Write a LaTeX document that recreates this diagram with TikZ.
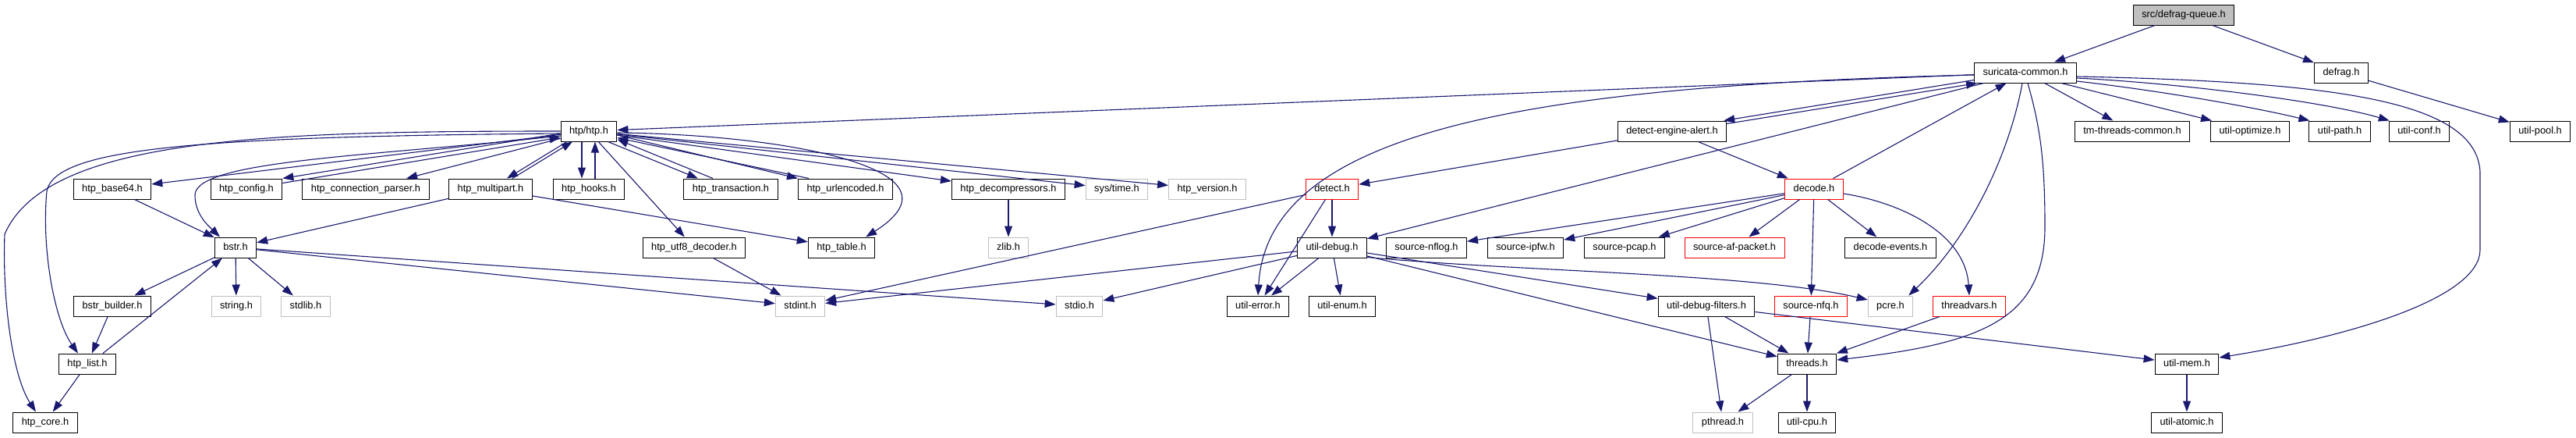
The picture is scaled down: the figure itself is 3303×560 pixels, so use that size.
\documentclass[tikz,border=0pt]{standalone}
\usepackage{fontspec}
\setmainfont{Liberation Sans}
\usepackage{xcolor}
\definecolor{edgeblue}{HTML}{191970}
\definecolor{extgray}{HTML}{BFBFBF}
\usetikzlibrary{arrows.meta}

\begin{document}
\begin{tikzpicture}[x=1pt, y=-1pt,
  file/.style={draw=black, fill=white, line width=1pt,
               font=\fontsize{12.8}{14}\selectfont, inner xsep=11pt, inner ysep=0pt,
               minimum height=26pt, text height=9.2pt, text depth=2.7pt},
  extfile/.style={file, draw=extgray},
  truncfile/.style={file, draw=red},
  rootfile/.style={file, fill=extgray},
  edge/.style={draw=edgeblue, line width=1.1pt, -{Triangle[length=14pt,width=10pt]}}]

\useasboundingbox (0,0) rectangle (3303,560);

% --- top: the file itself and its two direct includes ---
\node[rootfile] (root) at (2800,19) {src/defrag-queue.h};
\node[file] (scommon) at (2597,93) {suricata-common.h};
\node[file] (defrag) at (3002,93) {defrag.h};

% --- row 2 ---
\node[file] (htp) at (755,168) {htp/htp.h};
\node[file] (dealert) at (2144,168) {detect-engine-alert.h};
\node[file] (tmthreads) at (2734,168) {tm-threads-common.h};
\node[file] (uoptimize) at (2885,168) {util-optimize.h};
\node[file] (upath) at (3000,168) {util-path.h};
\node[file] (uconf) at (3102,168) {util-conf.h};
\node[file] (upool) at (3257,168) {util-pool.h};

% --- row 3: the htp headers ---
\node[file] (hbase) at (144,242) {htp\_base64.h};
\node[file] (hconfig) at (316,242) {htp\_config.h};
\node[file] (hconn) at (469,242) {htp\_connection\_parser.h};
\node[file] (hmulti) at (629,242) {htp\_multipart.h};
\node[file] (hhooks) at (755,242) {htp\_hooks.h};
\node[file] (htrans) at (937,242) {htp\_transaction.h};
\node[file] (hurl) at (1084,242) {htp\_urlencoded.h};
\node[file] (hdecomp) at (1293,242) {htp\_decompressors.h};
\node[extfile] (systime) at (1432,242) {sys/time.h};
\node[extfile] (hversion) at (1548,242) {htp\_version.h};
\node[truncfile] (detect) at (1708,242) {detect.h};
\node[truncfile] (decode) at (2326,242) {decode.h};

% --- row 4 ---
\node[file] (bstr) at (302,317) {bstr.h};
\node[file] (hutf) at (890,317) {htp\_utf8\_decoder.h};
\node[file] (htable) at (1079,317) {htp\_table.h};
\node[extfile] (zlib) at (1293,317) {zlib.h};
\node[file] (udebug) at (1708,317) {util-debug.h};
\node[file] (snflog) at (1829,317) {source-nflog.h};
\node[file] (sipfw) at (1956,317) {source-ipfw.h};
\node[file] (spcap) at (2083,317) {source-pcap.h};
\node[truncfile] (safp) at (2224,317) {source-af-packet.h};
\node[file] (devents) at (2424,317) {decode-events.h};

% --- row 5 ---
\node[file] (bbuild) at (144,392) {bstr\_builder.h};
\node[extfile] (string) at (303,392) {string.h};
\node[extfile] (stdlib) at (392,392) {stdlib.h};
\node[extfile] (stdint) at (1026,392) {stdint.h};
\node[extfile] (stdio) at (1384,392) {stdio.h};
\node[file] (uerror) at (1613,392) {util-error.h};
\node[file] (uenum) at (1721,392) {util-enum.h};
\node[file] (udfilt) at (2188,392) {util-debug-filters.h};
\node[truncfile] (snfq) at (2322,392) {source-nfq.h};
\node[extfile] (pcre) at (2424,392) {pcre.h};
\node[truncfile] (tvars) at (2525,392) {threadvars.h};

% --- rows 6 and 7 ---
\node[file] (hlist) at (112,466) {htp\_list.h};
\node[file] (threads) at (2317,466) {threads.h};
\node[file] (umem) at (2804,466) {util-mem.h};
\node[file] (hcore) at (58,541) {htp\_core.h};
\node[extfile] (pthread) at (2209,541) {pthread.h};
\node[file] (ucpu) at (2317,541) {util-cpu.h};
\node[file] (uatomic) at (2804,541) {util-atomic.h};

% --- edges from the root ---
\draw[edge] (root) -- (scommon);
\draw[edge] (root) -- (defrag);
\draw[edge] (defrag) -- (upool);

% --- suricata-common.h ---
\draw[edge] (scommon) -- (tmthreads);
\draw[edge] ([xshift=-20]scommon.south east) -- ([xshift=2]uoptimize.north west);
\draw[edge] ([yshift=-11]scommon.east) .. controls (2760,115) and (2880,135) .. ([xshift=1]upath.north west);
\draw[edge] ([yshift=-7]scommon.east) .. controls (2800,107) and (2980,130) .. ([xshift=1]uconf.north west);
\draw[edge] ([yshift=-5]scommon.east) .. controls (3000,105) and (3175,130) .. (3180,220)
  -- (3180,320) .. controls (3180,380) and (3020,430) .. ([yshift=8]umem.east);
\draw[edge] (scommon) -- (htp);
\draw[edge] ([yshift=4]scommon.south west) -- ([xshift=-4]dealert.north east);
\draw[edge] ([yshift=-4]dealert.north east) -- ([xshift=4]scommon.south west);
\draw[edge] (scommon) -- (udebug);
\draw[edge] ([yshift=-3]scommon.west) .. controls (1950,110) and (1625,170) .. (uerror.north);
\draw[edge] ([xshift=-4]scommon.south) .. controls (2578,190) and (2530,300) .. ([xshift=-6]pcre.north east);
\draw[edge] ([xshift=3]scommon.south) .. controls (2615,160) and (2622,200) .. (2622,290)
  .. controls (2622,410) and (2540,440) .. ([yshift=5]threads.east);

% --- detect-engine-alert.h and decode.h ---
\draw[edge] (dealert) -- (detect);
\draw[edge] (dealert) -- (decode);
\draw[edge] (decode) -- (scommon);
\draw[edge] (decode) -- (snflog);
\draw[edge] (decode) -- (sipfw);
\draw[edge] (decode) -- (spcap);
\draw[edge] (decode) -- (safp);
\draw[edge] (decode) -- (snfq);
\draw[edge] (decode) -- (devents);
\draw[edge] ([yshift=-6]decode.east) .. controls (2440,260) and (2520,300) .. (tvars.north);

% --- detect.h and util-debug.h ---
\draw[edge] (detect) -- (udebug);
\draw[edge] (detect) -- (uerror);
\draw[edge] (detect) -- (stdint);
\draw[edge] (udebug) -- (uerror);
\draw[edge] (udebug) -- (uenum);
\draw[edge] (udebug) -- (stdint);
\draw[edge] (udebug) -- (stdio);
\draw[edge] (udebug) -- (udfilt);
\draw[edge] (udebug) -- (threads);
\draw[edge] ([yshift=1]udebug.south east) .. controls (1950,348) and (2250,350) .. ([yshift=8]pcre.west);

% --- threads side ---
\draw[edge] (udfilt) -- (threads);
\draw[edge] (udfilt) -- (pthread);
\draw[edge] (udfilt) -- (umem);
\draw[edge] (snfq) -- (threads);
\draw[edge] (tvars) -- (threads);
\draw[edge] (threads) -- (pthread);
\draw[edge] (threads) -- (ucpu);
\draw[edge] (umem) -- (uatomic);

% --- htp/htp.h ---
\draw[edge] (htp) -- (hbase);
\draw[edge] ([yshift=-3]htp.west) -- (hconfig.north east);
\draw[edge] ([yshift=-6]hconfig.north east) -- ([yshift=-8]htp.west);
\draw[edge] (htp) -- (hconn);
\draw[edge] ([xshift=-28]htp.south) -- ([xshift=21]hmulti.north);
\draw[edge] ([xshift=28]hmulti.north) -- ([xshift=-21]htp.south);
\draw[edge] ([xshift=-9]htp.south) -- ([xshift=-9]hhooks.north);
\draw[edge] ([xshift=8]hhooks.north) -- ([xshift=8]htp.south);
\draw[edge] ([xshift=-12]htp.south east) -- ([xshift=-42]htrans.north);
\draw[edge] ([xshift=-23]htrans.north) -- ([yshift=3]htp.south east);
\draw[edge] ([yshift=-5]htp.east) -- (hurl.north west);
\draw[edge] ([xshift=-47]hurl.north) -- ([yshift=5]htp.south east);
\draw[edge] (htp) -- (hutf);
\draw[edge] (htp) -- (hdecomp);
\draw[edge] (htp) -- (systime);
\draw[edge] (htp) -- (hversion);
\draw[edge] ([yshift=-2]htp.east) .. controls (1000,172) and (1250,215) .. ([xshift=-12]htable.north east);
\draw[edge] ([yshift=-6]htp.west) .. controls (480,200) and (250,205) .. (250,250)
  .. controls (250,275) and (268,290) .. ([xshift=-20]bstr.north);
\draw[edge] ([yshift=-3]htp.west) .. controls (250,175) and (70,190) .. (60,245)
  .. controls (53,320) and (70,410) .. ([xshift=-12]hlist.north);
\draw[edge] (htp.west) .. controls (350,168) and (60,175) .. (6,300)
  .. controls (3,380) and (15,480) .. ([xshift=-12]hcore.north);

% --- htp helpers ---
\draw[edge] (hmulti) -- (htable);
\draw[edge] (hmulti) -- (bstr);
\draw[edge] (hbase) -- (bstr);
\draw[edge] (hdecomp) -- (zlib);
\draw[edge] (hutf) -- (stdint);

% --- bstr.h ---
\draw[edge] (bstr) -- (bbuild);
\draw[edge] (bstr) -- (string);
\draw[edge] (bstr) -- (stdlib);
\draw[edge] (bstr) -- (stdint);
\draw[edge] (bstr) -- (stdio);
\draw[edge] (bbuild) -- (hlist);
\draw[edge] ([xshift=20]hlist.north) -- ([xshift=-17]bstr.south);
\draw[edge] (hlist) -- (hcore);

\end{tikzpicture}
\end{document}
